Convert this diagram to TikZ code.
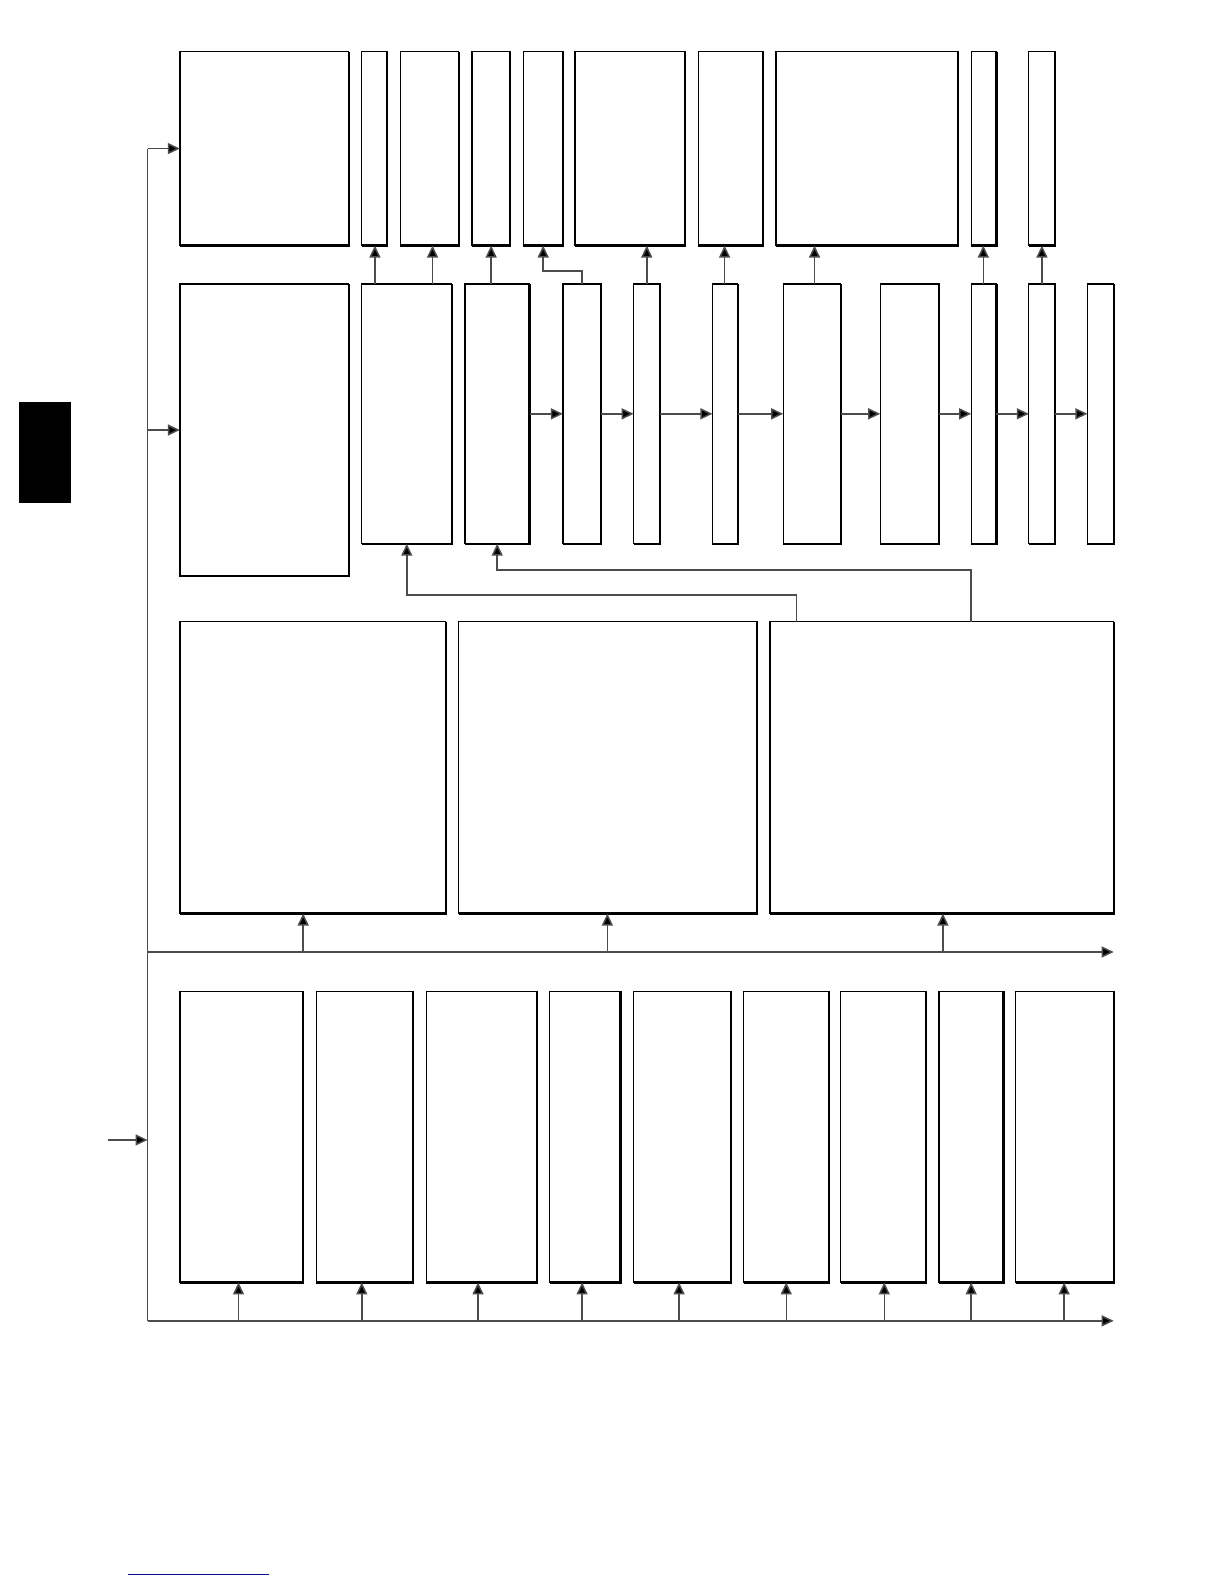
\documentclass[tikz,border=0pt]{standalone}
\usetikzlibrary{arrows.meta,fit}
\begin{document}
\begin{tikzpicture}[x=1.0106pt,y=-1.0106pt,
  box/.style={draw,line width=1.3pt,inner sep=0pt,outer sep=0pt},
  conn/.style={draw=black!70,line width=1.5pt,-{Triangle[length=12pt,width=11pt,fill=black]}},
  wire/.style={draw=black!70,line width=1.5pt}]
\useasboundingbox (0,0) rectangle (1211.2,1567.4);
% side tab and bottom rule
\fill[black] (19,398) rectangle (70,498);
\draw[draw={rgb,255:red,10;green,10;blue,140},line width=1.4pt] (127,1558) -- (266,1558);
% row 1
\node[box,fit={(178,51) (345,243)}] (A1) {};
\node[box,fit={(358,51) (383,243)}] (A2) {};
\node[box,fit={(396,51) (454,243)}] (A3) {};
\node[box,fit={(467,51) (505,243)}] (A4) {};
\node[box,fit={(518,51) (557,243)}] (A5) {};
\node[box,fit={(569,51) (678,243)}] (A6) {};
\node[box,fit={(691,51) (755,243)}] (A7) {};
\node[box,fit={(768,51) (948,243)}] (A8) {};
\node[box,fit={(961,51) (986,243)}] (A9) {};
\node[box,fit={(1018,51) (1044,243)}] (A10) {};
% row 2
\node[box,fit={(178,281) (345,570)}] (B1) {};
\node[box,fit={(358,281) (447,538)}] (B2) {};
\node[box,fit={(460,281) (524,538)}] (B3) {};
\node[box,fit={(557,281) (595,538)}] (B4) {};
\node[box,fit={(627,281) (653,538)}] (B5) {};
\node[box,fit={(705,281) (730,538)}] (B6) {};
\node[box,fit={(775,281) (832,538)}] (B7) {};
\node[box,fit={(871,281) (929,538)}] (B8) {};
\node[box,fit={(961,281) (986,538)}] (B9) {};
\node[box,fit={(1018,281) (1044,538)}] (B10) {};
\node[box,fit={(1076,281) (1102,538)}] (B11) {};
% row 3
\node[box,fit={(178,615) (441,904)}] (C1) {};
\node[box,fit={(454,615) (749,904)}] (C2) {};
\node[box,fit={(762,615) (1102,904)}] (C3) {};
% row 4
\node[box,fit={(178,981) (300,1269)}] (D1) {};
\node[box,fit={(313,981) (409,1269)}] (D2) {};
\node[box,fit={(422,981) (531,1269)}] (D3) {};
\node[box,fit={(544,981) (614,1269)}] (D4) {};
\node[box,fit={(627,981) (723,1269)}] (D5) {};
\node[box,fit={(736,981) (820,1269)}] (D6) {};
\node[box,fit={(832,981) (916,1269)}] (D7) {};
\node[box,fit={(929,981) (993,1269)}] (D8) {};
\node[box,fit={(1005,981) (1102,1269)}] (D9) {};
% heavier right and bottom edges
\foreach \n in {A1,A2,A3,A4,A5,A6,A7,A8,A9,A10,B1,B2,B3,B4,B5,B6,B7,B8,B9,B10,B11,C1,C2,C3,D1,D2,D3,D4,D5,D6,D7,D8,D9}
  \draw[line width=2.2pt] (\n.south west) -- (\n.south east) -- (\n.north east);
% row 2 -> row 1
\draw[conn] (B2.north -| 371,0) -- (A2.south -| 371,0);
\draw[conn] (B2.north -| 428,0) -- (A3.south -| 428,0);
\draw[conn] (B3.north -| 486,0) -- (A4.south -| 486,0);
\draw[conn] (B4.north) -- (B4.north |- 0,268) -| (A5.south);
\draw[conn] (B5.north -| 640,0) -- (A6.south -| 640,0);
\draw[conn] (B6.north -| 717,0) -- (A7.south -| 717,0);
\draw[conn] (B7.north -| 806,0) -- (A8.south -| 806,0);
\draw[conn] (B9.north -| 973,0) -- (A9.south -| 973,0);
\draw[conn] (B10.north -| 1031,0) -- (A10.south -| 1031,0);
% row 2 chain
\draw[conn] (B3) -- (B4);
\draw[conn] (B4) -- (B5);
\draw[conn] (B5) -- (B6);
\draw[conn] (B6) -- (B7);
\draw[conn] (B7) -- (B8);
\draw[conn] (B8) -- (B9);
\draw[conn] (B9) -- (B10);
\draw[conn] (B10) -- (B11);
% row 3 -> row 2
\draw[conn] (C3.north -| 788,0) -- (788,589) -| (B2.south);
\draw[conn] (C3.north -| 961,0) -- (961,564) -| (B3.south);
% buses
\coordinate (in) at (107,1128);
\coordinate (bustop) at (146,147);
\coordinate (busbot) at (146,1307);
\coordinate (midend) at (1102,942);
\coordinate (botend) at (1102,1307);
\draw[wire] (bustop) -- (busbot);
\draw[conn] (in) -- (in -| busbot);
\draw[conn] (bustop) -- (A1.west);
\draw[conn] (B1.west -| bustop) -- (B1.west);
\draw[conn] (busbot |- midend) -- (midend);
\draw[conn] (busbot) -- (botend);
\draw[conn] (300,942) -- (C1.south -| 300,0);
\draw[conn] (601,942) -- (C2.south -| 601,0);
\draw[conn] (933,942) -- (C3.south -| 933,0);
\draw[conn] (236,1307) -- (D1.south -| 236,0);
\draw[conn] (358,1307) -- (D2.south -| 358,0);
\draw[conn] (473,1307) -- (D3.south -| 473,0);
\draw[conn] (576,1307) -- (D4.south -| 576,0);
\draw[conn] (672,1307) -- (D5.south -| 672,0);
\draw[conn] (778,1307) -- (D6.south -| 778,0);
\draw[conn] (875,1307) -- (D7.south -| 875,0);
\draw[conn] (961,1307) -- (D8.south -| 961,0);
\draw[conn] (1053,1307) -- (D9.south -| 1053,0);
\end{tikzpicture}
\end{document}
